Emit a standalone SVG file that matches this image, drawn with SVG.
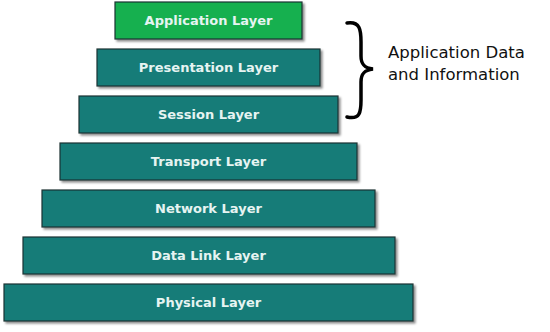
<svg xmlns="http://www.w3.org/2000/svg" width="550" height="332" viewBox="0 0 550 332">
<defs>
<filter id="sh" x="-5%" y="-20%" width="115%" height="150%">
<feDropShadow dx="2" dy="2" stdDeviation="1.2" flood-color="#000" flood-opacity="0.45"/>
</filter>
</defs>
<style>
.box{fill:#167c78;stroke:#1d3534;stroke-width:1.2;filter:url(#sh)}
.app{fill:#13b04f}
.lbl{font-family:"DejaVu Sans",Verdana,sans-serif;font-weight:bold;font-size:13px;fill:#e6f4f2;text-anchor:middle}
.side{font-family:"DejaVu Sans",Verdana,sans-serif;font-size:16.5px;fill:#111}
</style>
<rect width="550" height="332" fill="#fff"/>
<g id="application"><rect class="box app" x="115" y="2" width="187" height="37"/><text class="lbl" x="208.5" y="25">Application Layer</text></g>
<g id="presentation"><rect class="box" x="97" y="49" width="223" height="37"/><text class="lbl" x="208.5" y="72">Presentation Layer</text></g>
<g id="session"><rect class="box" x="79" y="96" width="259" height="37"/><text class="lbl" x="208.5" y="119">Session Layer</text></g>
<g id="transport"><rect class="box" x="60" y="143" width="297" height="37"/><text class="lbl" x="208.5" y="166">Transport Layer</text></g>
<g id="network"><rect class="box" x="42" y="190" width="333" height="37"/><text class="lbl" x="208.5" y="213">Network Layer</text></g>
<g id="datalink"><rect class="box" x="23" y="237" width="372" height="37"/><text class="lbl" x="208.5" y="260">Data Link Layer</text></g>
<g id="physical"><rect class="box" x="4" y="284" width="409" height="37"/><text class="lbl" x="208.5" y="307">Physical Layer</text></g>
<g id="connectors">
<path d="M347,23 C360,21 361,30 361,42 L361,56 C361,64 364,68 373,69 C364,70 361,74 361,82 L361,100 C361,112 360,120 347,117" fill="none" stroke="#000" stroke-width="3.5" stroke-linecap="round"/>
</g>
<g id="label"><text class="side" x="388" y="58">Application Data</text><text class="side" x="388" y="80">and Information</text></g>
</svg>
